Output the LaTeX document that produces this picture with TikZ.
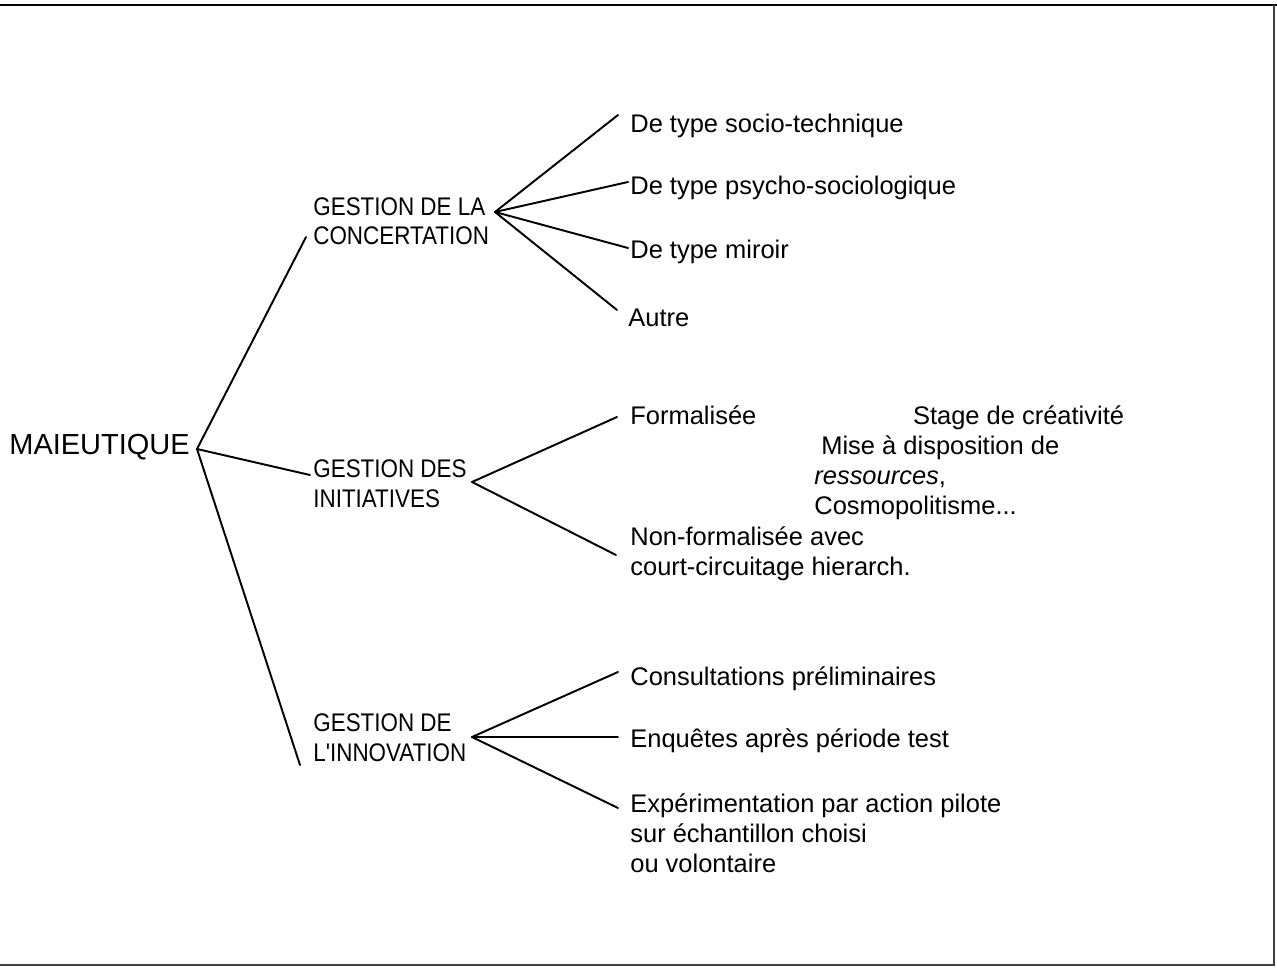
\documentclass[tikz,border=0pt]{standalone}
\usepackage{fontspec}
\setmainfont{Liberation Sans}
\newfontfamily\capsfont[FakeStretch=0.88]{Liberation Sans}
\usetikzlibrary{positioning}

\begin{document}
\begin{tikzpicture}[x=0.02cm, y=-0.02cm,
        every node/.style={inner sep=0pt, align=left, anchor=base west,
                           font=\fontsize{14.5}{17}\selectfont},
        group/.style={font=\capsfont\fontsize{14.5}{17}\selectfont},
        branch/.style={line width=1.1pt, line cap=round},
        ]

        \useasboundingbox (0,0) rectangle (1277,969);
        \draw [line width=1.6pt] (0,5) -- (1277,5);
        \draw [line width=0.6pt, black!75] (1274,5) -- (1274,965) -- (0,965);

        \node (root) at (9,454) [font=\fontsize{16.5}{20}\selectfont] {MAIEUTIQUE};

        \node (conc) at (313,245) [group] {GESTION DE LA\\CONCERTATION};
        \node (initi) at (313,507) [group] {GESTION DES\\INITIATIVES};
        \node (innov) at (313,761) [group] {GESTION DE\\L'INNOVATION};

        \coordinate (hubR) at ([shift={(188,-5)}]root.base west);
        \coordinate (hubC) at ([shift={(182,-33)}]conc.base west);
        \coordinate (hubI) at ([shift={(159,-25)}]initi.base west);
        \coordinate (hubN) at ([shift={(159,-24)}]innov.base west);

        \node (socio)  at (630,133) {De type socio-technique};
        \node (psycho) at (630,195) {De type psycho-sociologique};
        \node (miroir) at (630,259) {De type miroir};
        \node (autre)  at (628,327) {Autre};

        \node (formal) at (630,424) {Formalisée};
        \node (stage) [right=156 of formal.base east, anchor=base west] {Stage de créativité};
        \node (mise) at (814,514) {\hspace*{0.14cm}Mise à disposition de\\\textit{ressources},\\Cosmopolitisme...};
        \node (nonformal) at (630,575) {Non-formalisée avec\\court-circuitage hierarch.};

        \node (consult) at (630,685) {Consultations préliminaires};
        \node (enquete) at (630,747) {Enquêtes après période test};
        \node (experim) at (630,872) {Expérimentation par action pilote\\sur échantillon choisi\\ou volontaire};

        \draw [branch] (hubR) -- ([shift={(-7,-8)}]conc.base west);
        \draw [branch] (hubR) -- ([shift={(-3,-32)}]initi.base west);
        \draw [branch] (hubR) -- ([shift={(-13,4)}]innov.base west);

        \draw [branch] (hubC) -- ([shift={(-12,-18)}]socio.base west);
        \draw [branch] (hubC) -- ([shift={(-2,-13)}]psycho.base west);
        \draw [branch] (hubC) -- ([shift={(-2,-11)}]miroir.base west);
        \draw [branch] (hubC) -- ([shift={(-11,-17)}]autre.base west);

        \draw [branch] (hubI) -- ([shift={(-13,-7)}]formal.base west);
        \draw [branch] (hubI) -- ([shift={(-14,-20)}]nonformal.base west);

        \draw [branch] (hubN) -- ([shift={(-12,-13)}]consult.base west);
        \draw [branch] (hubN) -- ([shift={(-12,-10)}]enquete.base west);
        \draw [branch] (hubN) -- ([shift={(-12,-64)}]experim.base west);

    \end{tikzpicture}
\end{document}
